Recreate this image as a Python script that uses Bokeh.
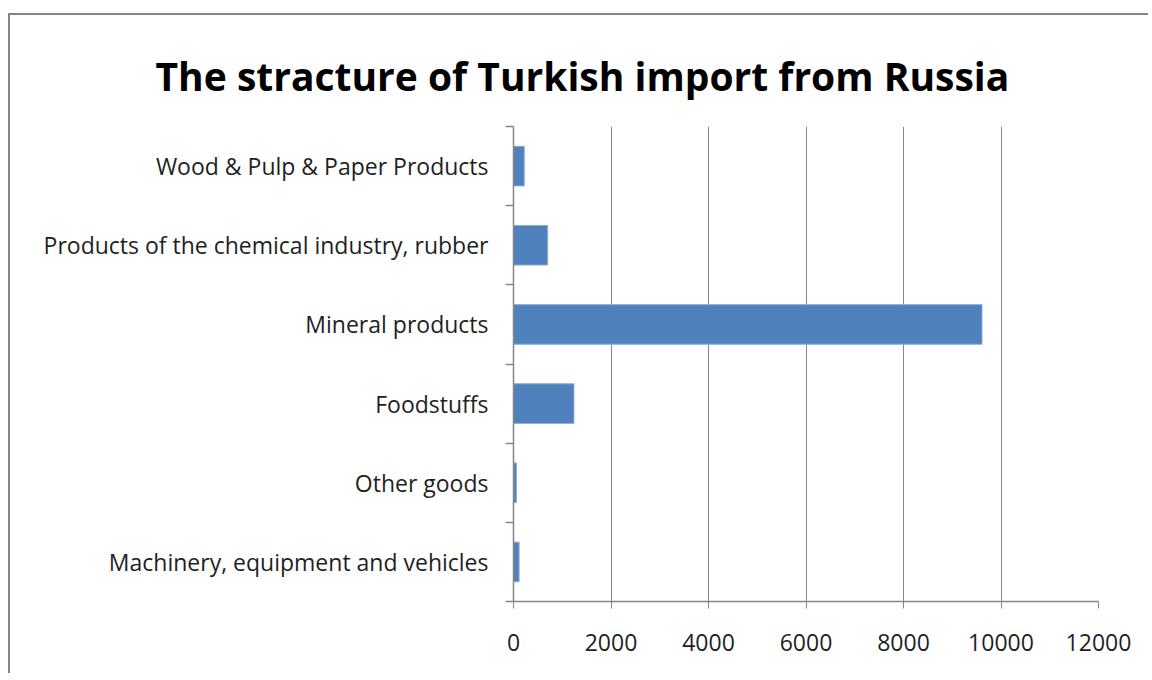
from bokeh.plotting import figure
from bokeh.models import (ColumnDataSource, FixedTicker, NumeralTickFormatter,
                          Title, Range1d)
from bokeh.embed import file_html
from bokeh.resources import INLINE

title_text = "The stracture of Turkish import from Russia"
categories = [
    "Machinery, equipment and vehicles",
    "Other goods",
    "Foodstuffs",
    "Mineral products",
    "Products of the chemical industry, rubber",
    "Wood & Pulp & Paper Products",
]
values = [115, 60, 1240, 9610, 700, 220]
x_ticks = [0, 2000, 4000, 6000, 8000, 10000, 12000]

positions = [i + 0.5 for i in range(len(categories))]
source = ColumnDataSource(dict(y=positions, v=values, cat=categories))

grey = "#868686"
FONT = "Open Sans"
W, H = 1140, 660
p = figure(width=W, height=H, output_backend="svg", toolbar_location=None,
           x_range=Range1d(0, 12000), y_range=Range1d(0, len(categories)),
           min_border_left=503, min_border_right=52, min_border_top=111,
           min_border_bottom=74)
p.styles = {"border-left": "2px solid " + grey, "border-top": "2px solid " + grey,
            "margin-left": "8px", "margin-top": "13px"}
p.outline_line_color = None
p.background_fill_color = "white"
p.border_fill_color = "white"

p.hbar(y="y", right="v", left=0, height=0.5, source=source,
       fill_color="#4F81BD", line_color="#8DAAD6", line_width=1)

# x axis
p.xaxis.ticker = FixedTicker(ticks=x_ticks)
p.xaxis.formatter = NumeralTickFormatter(format="0")
p.xaxis.axis_line_color = grey
p.xaxis.axis_line_width = 1.5
p.xaxis.major_tick_line_color = grey
p.xaxis.major_tick_out = 7
p.xaxis.major_tick_in = 0
p.xaxis.minor_tick_line_color = None
p.xaxis.major_label_text_font = FONT
p.xaxis.major_label_text_font_size = "23px"
p.xaxis.major_label_text_color = "#1f1f1f"
p.xaxis.major_label_standoff = 25

# y axis
p.yaxis.ticker = FixedTicker(ticks=positions, minor_ticks=list(range(len(categories) + 1)))
p.yaxis.major_label_overrides = {pos: c for pos, c in zip(positions, categories)}
p.yaxis.axis_line_color = grey
p.yaxis.axis_line_width = 1.5
p.yaxis.major_tick_line_color = None
p.yaxis.major_tick_out = 0
p.yaxis.major_tick_in = 0
p.yaxis.minor_tick_line_color = grey
p.yaxis.minor_tick_line_width = 1.5
p.yaxis.minor_tick_out = 8
p.yaxis.minor_tick_in = 0
p.yaxis.major_label_text_font = FONT
p.yaxis.major_label_text_font_size = "23px"
p.yaxis.major_label_text_color = "#1f1f1f"
p.yaxis.major_label_standoff = 17

p.xgrid.ticker = FixedTicker(ticks=x_ticks)
p.xgrid.grid_line_color = grey
p.xgrid.grid_line_width = 1
p.ygrid.grid_line_color = None

has_standoff = "standoff" in Title.properties()

# small invisible spacer panel between the frame and the title
spacer = Title(text=" ", text_font=FONT, text_font_size="6px", text_alpha=0)
if has_standoff:
    spacer.standoff = 0
p.add_layout(spacer, "above")

t = Title(text=title_text, align="left", offset=-358, vertical_align="top",
          text_font=FONT, text_font_style="bold", text_font_size="39px",
          text_color="black")
if has_standoff:
    t.standoff = 45
p.add_layout(t, "above")

open("out.html", "w").write(file_html(p, INLINE))
